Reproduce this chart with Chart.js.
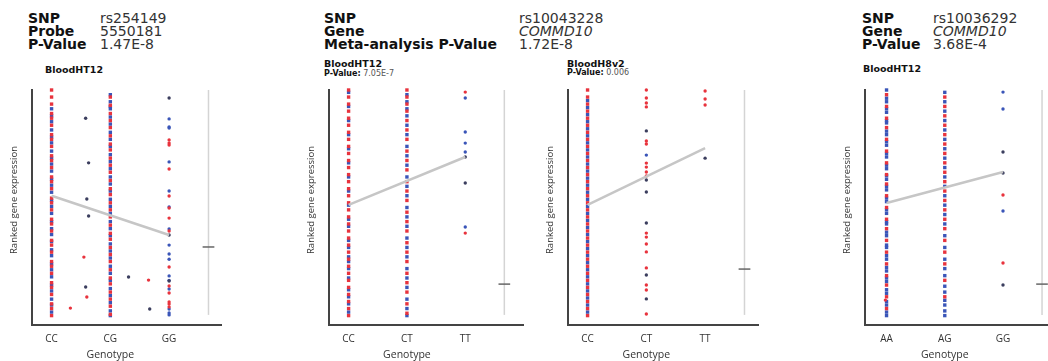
<!DOCTYPE html>
<html>
<head>
<meta charset="utf-8">
<script src="https://cdn.jsdelivr.net/npm/chart.js@4.4.0/dist/chart.umd.min.js"></script>
<style>
html, body { margin: 0; padding: 0; background: #fff; }
body { width: 1048px; height: 361px; overflow: hidden; position: relative; font-family: 'DejaVu Sans', sans-serif; }
canvas { position: absolute; top: 0; }
.t { position: absolute; white-space: nowrap; }
.lbl { font-weight: 700; font-size: 14px; line-height: 14px; color: #111; }
.val { font-size: 14px; line-height: 14px; color: #333; }
.sub { font-weight: 700; font-size: 9.5px; line-height: 9.5px; color: #111; }
.pv { font-size: 8px; line-height: 8px; color: #555; }
.pv b { color: #111; }
</style>
</head>
<body>

<!-- header, panel 1 -->
<div class="t lbl" style="left:28px;top:10.9px">SNP</div>
<div class="t lbl" style="left:28px;top:23.5px">Probe</div>
<div class="t lbl" style="left:28px;top:36.5px">P-Value</div>
<div class="t val" style="left:100px;top:10.9px">rs254149</div>
<div class="t val" style="left:100px;top:23.5px">5550181</div>
<div class="t val" style="left:100px;top:36.5px">1.47E-8</div>
<div class="t sub" style="left:45px;top:64.7px">BloodHT12</div>

<!-- header, panels 2 + 3 -->
<div class="t lbl" style="left:324px;top:10.9px">SNP</div>
<div class="t lbl" style="left:324px;top:23.5px">Gene</div>
<div class="t lbl" style="left:324px;top:36.5px">Meta-analysis P-Value</div>
<div class="t val" style="left:519px;top:10.9px">rs10043228</div>
<div class="t val" style="left:519px;top:23.5px;font-style:italic">COMMD10</div>
<div class="t val" style="left:519px;top:36.5px">1.72E-8</div>
<div class="t sub" style="left:324px;top:58.7px">BloodHT12</div>
<div class="t pv" style="left:324px;top:69.5px"><b>P-Value:</b> 7.05E-7</div>
<div class="t sub" style="left:567px;top:58.9px">BloodH8v2</div>
<div class="t pv" style="left:567px;top:69.3px"><b>P-Value:</b> 0.006</div>

<!-- header, panel 4 -->
<div class="t lbl" style="left:862px;top:10.9px">SNP</div>
<div class="t lbl" style="left:862px;top:23.5px">Gene</div>
<div class="t lbl" style="left:862px;top:36.5px">P-Value</div>
<div class="t val" style="left:933px;top:10.9px">rs10036292</div>
<div class="t val" style="left:933px;top:23.5px;font-style:italic">COMMD10</div>
<div class="t val" style="left:933px;top:36.5px">3.68E-4</div>
<div class="t sub" style="left:863px;top:63.7px">BloodHT12</div>

<canvas id="c1" width="225" height="361" style="left:0px"></canvas>
<canvas id="c2" width="227" height="361" style="left:300px"></canvas>
<canvas id="c3" width="222" height="361" style="left:540px"></canvas>
<canvas id="c4" width="225" height="361" style="left:835px"></canvas>

<script>
// ---- data (ranked expression, 0-100; genotype index 0,1,2) ----
const cats1 = ['CC', 'CG', 'GG'];
const cats2 = ['CC', 'CT', 'TT'];
const cats3 = ['CC', 'CT', 'TT'];
const cats4 = ['AA', 'AG', 'GG'];

// panel 1 : rs254149 / BloodHT12
const p1_CC_red  = [4,7,9,13,16,18,22,25,27,31,34,36,40,43,45,49,52,54,58,61,63,67,70,72,76,79,81,85,88,90,94,97,100];
const p1_CC_blue = [5.5,8.5,11,14.5,17,20.5,23.5,26,29.5,32,35.5,38.5,41,44,47.5,50.5,53,56.5,59.5,62,65.5,68.5,71,74,77.5,80,83,86.5,89,92];
const p1_CG_red  = [4.5,8,11,14,17.5,20,23.5,27,30,33,36.5,39,42.5,46,49,52,55.5,58,61.5,65,68,71,74.5,77,80.5,84,87,90,93.5,97];
const p1_CG_blue = [4,6,9.5,12.5,15.5,19,22,25,28.5,31.5,34.5,38,41,44,47.5,50.5,53.5,57,60,63,66.5,69.5,72.5,76,79,82,85.5,88.5,92,93,95,98];
const p1_GG_red  = [78.7,77.4,76.6,66.4,54.9,49.8,45.5,40,24.7,16.6,13.6,9.8,8.9,7.7];
const p1_GG_blue = [87.7,84.3,83.8,69.4,57,50.2,40.9,34,30.2,28,20.9,19,15.3,6.8,5.1,4.3];
const p1_GG_dark = [96.6,38.3,18.7];
const p1_stray_dark = [[0.58,88],[0.63,69],[0.6,53.6],[0.63,46.4],[0.58,16.2],[1.31,20.4],[1.67,6.8]];
const p1_stray_red  = [[0.55,28.9],[0.6,11.9],[0.32,7.2],[1.65,19.1]];
const p1_fit = [55, 38.3];
const p1_err = 33.2;

// panel 2 : rs10043228 / BloodHT12
const p2_CC_red  = [4,7,10,13,16,19,22,25,28,31,34,37,40,43,46,49,52,55,58,61,64,67,70,73,76,79,82,85,88,91,94,97,100];
const p2_CC_blue = [5.5,9,12,15,20,24,27,29,33,36,42,45,51,57,63,69,75,81,87,93,99];
const p2_CT_red  = [5,9,14,18,22,27,31,35,40,44,48,53,57,61,66,70,74,79,83,87,91,94,97,100];
const p2_CT_blue = [4,7,11,16,20,24,29,33,37,42,46,50,55,59,63,68,72,76,81,85,89,92,95,98];
const p2_TT_red  = [99.1,39.1];
const p2_TT_blue = [96.6,82.1,77.4,73.6,41.7];
const p2_TT_dark = [71.5,60.4];
const p2_fit = [51.1, 71.5];
const p2_err = 17.4;

// panel 3 : rs10043228 / BloodH8v2
const p3_CC_red  = [4,7,10,13,16,19,22,25,28,31,34,37,40,43,46,49,52,55,58,61,64,67,70,73,76,79,82,85,88,91,94,97,100];
const p3_CC_blue = [5.5,8.5,11.5,14.5,17.5,20.5,23.5,26.5,29.5,32.5,35.5,38.5,41.5,44.5,47.5,50.5,53.5,56.5,59.5,62.5,65.5,68.5,71.5,74.5,77.5,80.5,83.5,86.5,89.5,92.5,95.5];
const p3_CT_red  = [100,96.6,94.5,92.8,78.3,77,68.9,67.2,65.1,63.4,39.1,37.4,34.5,31.1,24.3,17,14.9,4.7];
const p3_CT_blue = [72.3];
const p3_CT_dark = [82.6,61.7,56.6,43.4,21.3,11.1];
const p3_TT_red  = [99.6,96.2,93.6];
const p3_TT_dark = [71];
const p3_fit = [51.1, 75.3];
const p3_err = 23.8;

// panel 4 : rs10036292 / BloodHT12
const p4_AA_red  = [7,12,17,21,26,31,36,41,45,50,55,60,64,69,74,79,84,88,93,98];
const p4_AA_blue = [4,5.5,8.5,10,13.5,15,18.5,20,23,24.5,28,29.5,33,34,38,39.5,43,44,47.5,49,52.5,54,57.5,59,62,63.5,66.5,68,71.5,73,76.5,78,81,82.5,86,87,90.5,92,95,96.5,100];
const p4_AG_red  = [12,19,26,31,36,41,45,49,53,57,61,65,69,73,77,81,85,89,93,97];
const p4_AG_blue = [4,6,8.5,10.5,14,16.5,21,24,28,33,38,43,47,51,55,59,63,67,71,75,79,83,87,91,95,99];
const p4_stray_red = [[-0.02,10.6]];
const p4_GG_red  = [55.3,26.4];
const p4_GG_blue = [99.1,91.9,48.5];
const p4_GG_dark = [73.6,64.7,17];
const p4_fit = [51.9, 65.1];
const p4_err = 17.4;

// ---- drawing ----
const RED = '#e8333d', BLUE = '#3a55b8', DARK = '#3b3e5e';

function col(x, ys) { return ys.map(y => ({x: x, y: y})); }
function pairs(list) { return list.map(p => ({x: p[0], y: p[1]})); }

const axisText = {
    id: 'axisText',
    afterDraw(chart) {
        const ctx = chart.ctx, a = chart.chartArea;
        ctx.save();
        ctx.fillStyle = '#333';
        ctx.textAlign = 'center';
        ctx.textBaseline = 'middle';
        ctx.font = '10.5px "Open Sans"';
        ctx.fillText('Genotype', chart.scales.x.getPixelForValue(1), 355);
        ctx.translate(a.left - 18, 200);
        ctx.rotate(-Math.PI / 2);
        ctx.font = '9.5px "Open Sans"';
        ctx.fillText('Ranked gene expression', 0, 0);
        ctx.restore();
    }
};

function makePanel(id, o) {
    const dense = {pointStyle: 'rect', pointRadius: 2.4};
    const datasets = [
        {data: [{x: 0, y: o.fit[0]}, {x: 2, y: o.fit[1]}], showLine: true, borderColor: '#c6c6c6', borderWidth: 2.5, pointRadius: 0, order: 0},
        {data: o.dark, backgroundColor: DARK, order: 1},
        {data: o.red, backgroundColor: RED, order: 2},
        {data: o.blue, backgroundColor: BLUE, order: 3},
        Object.assign({data: o.denseRed, backgroundColor: RED, order: 4}, dense),
        Object.assign({data: o.denseBlue, backgroundColor: BLUE, order: 5}, dense),
        {data: [{x: o.errX - 0.1, y: o.err}, {x: o.errX + 0.1, y: o.err}], showLine: true, borderColor: '#666', borderWidth: 1.5, pointRadius: 0, order: 6},
        {data: [{x: o.errX, y: 4.3}, {x: o.errX, y: 100}], showLine: true, borderColor: '#d4d4d4', borderWidth: 1.5, pointRadius: 0, order: 7}
    ];
    new Chart(document.getElementById(id), {
        type: 'scatter',
        data: {datasets: datasets},
        options: {
            responsive: false,
            animation: false,
            layout: {padding: {top: 90, right: 0, bottom: 0, left: 0}},
            elements: {point: {radius: 1.7, borderWidth: 0}},
            clip: false,
            plugins: {legend: {display: false}, tooltip: {enabled: false}},
            scales: {
                x: {
                    min: o.xmin, max: o.xmax,
                    afterBuildTicks: s => { s.ticks = [0, 1, 2].map(v => ({value: v})); },
                    afterFit: s => { s.height = 36; },
                    ticks: {callback: v => o.cats[v], font: {family: 'Open Sans', size: 10}, color: '#333', padding: 8, autoSkip: false, maxRotation: 0},
                    grid: {display: false, drawTicks: false},
                    border: {display: true, color: '#444', width: 2}
                },
                y: {
                    min: 0, max: 100,
                    afterFit: s => { s.width = o.yw; },
                    ticks: {display: false},
                    grid: {display: false, drawTicks: false},
                    border: {display: true, color: '#444', width: 2}
                }
            }
        },
        plugins: [axisText]
    });
}

makePanel('c1', {
    cats: cats1, xmin: -0.333, xmax: 2.883, yw: 32, errX: 2.67, err: p1_err, fit: p1_fit,
    denseRed: col(0, p1_CC_red).concat(col(1, p1_CG_red)),
    denseBlue: col(0, p1_CC_blue).concat(col(1, p1_CG_blue)),
    red: col(2, p1_GG_red).concat(pairs(p1_stray_red)),
    blue: col(2, p1_GG_blue),
    dark: col(2, p1_GG_dark).concat(pairs(p1_stray_dark))
});
makePanel('c2', {
    cats: cats2, xmin: -0.336, xmax: 2.99, yw: 29, errX: 2.67, err: p2_err, fit: p2_fit,
    denseRed: col(0, p2_CC_red).concat(col(1, p2_CT_red)),
    denseBlue: col(0, p2_CC_blue).concat(col(1, p2_CT_blue)),
    red: col(2, p2_TT_red),
    blue: col(2, p2_TT_blue),
    dark: col(2, p2_TT_dark)
});
makePanel('c3', {
    cats: cats3, xmin: -0.333, xmax: 2.9, yw: 28, errX: 2.67, err: p3_err, fit: p3_fit,
    denseRed: col(0, p3_CC_red),
    denseBlue: col(0, p3_CC_blue),
    red: col(1, p3_CT_red).concat(col(2, p3_TT_red)),
    blue: col(1, p3_CT_blue),
    dark: col(1, p3_CT_dark).concat(col(2, p3_TT_dark))
});
makePanel('c4', {
    cats: cats4, xmin: -0.37, xmax: 2.91, yw: 30, errX: 2.67, err: p4_err, fit: p4_fit,
    denseRed: col(0, p4_AA_red).concat(col(1, p4_AG_red)),
    denseBlue: col(0, p4_AA_blue).concat(col(1, p4_AG_blue)),
    red: col(2, p4_GG_red).concat(pairs(p4_stray_red)),
    blue: col(2, p4_GG_blue),
    dark: col(2, p4_GG_dark)
});
</script>
</body>
</html>
